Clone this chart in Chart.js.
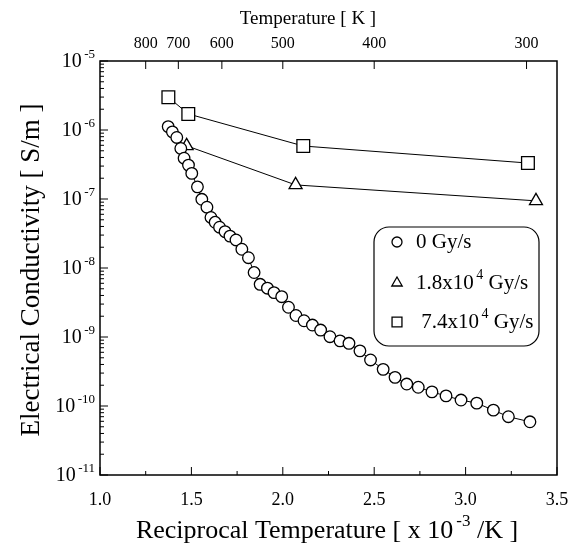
<!DOCTYPE html>
<html>
<head>
<meta charset="utf-8">
<script src="https://cdn.jsdelivr.net/npm/chart.js@4.4.1/dist/chart.umd.min.js"></script>
<style>
  html, body { margin: 0; padding: 0; background: #fff; }
  #wrap { width: 574px; height: 547px; }
</style>
</head>
<body>
<div id="wrap"><canvas id="condChart" width="574" height="547"></canvas></div>
<script>
// reciprocal temperature (x 10^-3 /K) and conductivity (S/m)
const recip0 = [1.373, 1.396, 1.420, 1.442, 1.460, 1.484, 1.502, 1.533, 1.557, 1.585,
  1.607, 1.630, 1.654, 1.684, 1.711, 1.744, 1.776, 1.812, 1.843, 1.876,
  1.916, 1.952, 1.994, 2.031, 2.072, 2.116, 2.162, 2.207, 2.258, 2.313,
  2.362, 2.422, 2.480, 2.549, 2.614, 2.678, 2.741, 2.816, 2.893, 2.975,
  3.061, 3.152, 3.234, 3.352]
const sigma0 = [1.12e-6, 9.4e-7, 7.8e-7, 5.4e-7, 3.9e-7, 3.1e-7, 2.35e-7, 1.5e-7, 9.9e-8, 7.6e-8,
  5.4e-8, 4.6e-8, 3.9e-8, 3.36e-8, 2.9e-8, 2.55e-8, 1.87e-8, 1.41e-8, 8.6e-9, 5.8e-9,
  5.1e-9, 4.4e-9, 3.84e-9, 2.7e-9, 2.05e-9, 1.72e-9, 1.49e-9, 1.26e-9, 1.01e-9, 8.8e-10,
  8.1e-10, 6.3e-10, 4.65e-10, 3.4e-10, 2.6e-10, 2.08e-10, 1.87e-10, 1.6e-10, 1.4e-10, 1.22e-10,
  1.1e-10, 8.7e-11, 7.0e-11, 5.9e-11]

const recip1 = [1.474, 2.070, 3.385]
const sigma1 = [5.9e-7, 1.6e-7, 9.4e-8]

const recip2 = [1.374, 1.483, 2.112, 3.341]
const sigma2 = [2.98e-6, 1.71e-6, 5.86e-7, 3.32e-7]

const tempTicks = [800, 700, 600, 500, 400, 300]
const yExponents = [-5, -6, -7, -8, -9, -10, -11]

const legendItems = [
  { style: 'circle', radius: 5, parts: ['0 Gy/s', '', ''] },
  { style: 'triangle', radius: 6, parts: ['1.8x10', '4', ' Gy/s'] },
  { style: 'rect', radius: 7, parts: [' 7.4x10', '4', ' Gy/s'] }
]

const serif = '"Liberation Serif", "Times New Roman", serif'

function toPoints(xs, ys) {
  return xs.map((x, i) => ({ x: x, y: ys[i] }))
}

// text with a raised exponent part
function drawSup(ctx, parts, x, y, size, align) {
  const supSize = Math.round(size * 0.65)
  ctx.font = size + 'px ' + serif
  const w0 = ctx.measureText(parts[0]).width
  const w2 = ctx.measureText(parts[2]).width
  ctx.font = supSize + 'px ' + serif
  const w1 = ctx.measureText(parts[1]).width
  const gap = parts[1] ? size * 0.12 : 0
  const total = w0 + gap + w1 + w2
  let left = x
  if (align === 'center') left = x - total / 2
  if (align === 'right') left = x - total
  ctx.textAlign = 'left'
  ctx.textBaseline = 'middle'
  ctx.font = size + 'px ' + serif
  ctx.fillText(parts[0], left, y)
  ctx.font = supSize + 'px ' + serif
  ctx.fillText(parts[1], left + w0 + gap, y - size * 0.38)
  ctx.font = size + 'px ' + serif
  ctx.fillText(parts[2], left + w0 + gap + w1, y)
}

const axesPlugin = {
  id: 'axesPlugin',
  afterDatasetsDraw(chart) {
    const ctx = chart.ctx
    const area = chart.chartArea
    const xs = chart.scales.x
    const xt = chart.scales.x2
    const ys = chart.scales.y
    ctx.save()
    ctx.strokeStyle = '#000'
    ctx.fillStyle = '#000'
    ctx.lineWidth = 1.5
    ctx.strokeRect(area.left, area.top, area.right - area.left, area.bottom - area.top)

    ctx.lineWidth = 1
    // bottom ticks, inside
    xs.ticks.forEach(t => {
      const px = xs.getPixelForValue(t.value)
      const major = Math.abs(t.value * 2 - Math.round(t.value * 2)) < 1e-6
      const len = major ? 8 : 4
      ctx.beginPath()
      ctx.moveTo(px, area.bottom)
      ctx.lineTo(px, area.bottom - len)
      ctx.stroke()
      if (major) {
        ctx.font = '18px ' + serif
        ctx.textAlign = 'center'
        ctx.textBaseline = 'middle'
        ctx.fillText(t.value.toFixed(1), px, area.bottom + 25)
      }
    })

    // top temperature ticks
    xt.ticks.forEach((t, i) => {
      const px = xt.getPixelForValue(t.value)
      ctx.beginPath()
      ctx.moveTo(px, area.top)
      ctx.lineTo(px, area.top + 8)
      ctx.stroke()
      ctx.font = '16px ' + serif
      ctx.textAlign = 'center'
      ctx.textBaseline = 'middle'
      ctx.fillText(String(tempTicks[i]), px, area.top - 17)
    })

    // left log ticks: decades long, 2..9 short
    yExponents.forEach(e => {
      for (let m = 1; m < 10; m++) {
        const v = m * Math.pow(10, e)
        if (v > 1.0001e-5) break
        const py = ys.getPixelForValue(v)
        ctx.beginPath()
        ctx.moveTo(area.left, py)
        ctx.lineTo(area.left + (m === 1 ? 8 : 4), py)
        ctx.stroke()
      }
    })
    yExponents.forEach(e => {
      const py = ys.getPixelForValue(Math.pow(10, e))
      drawSup(ctx, ['10', String(e), ''], area.left - 5, py + 1, 20, 'right')
    })

    // axis titles
    drawSup(ctx, ['Reciprocal Temperature [ x 10', '-3', ' /K ]'], 327, area.bottom + 56, 26, 'center')
    ctx.font = '19px ' + serif
    ctx.textAlign = 'center'
    ctx.textBaseline = 'middle'
    ctx.fillText('Temperature [ K ]', 308, 19)

    ctx.save()
    ctx.translate(32, 270)
    ctx.rotate(-Math.PI / 2)
    ctx.font = '27px ' + serif
    ctx.fillText('Electrical Conductivity [ S/m ]', 0, 0)
    ctx.restore()

    // legend box
    const bx = 374, by = 227, bw = 165, bh = 119, r = 15
    ctx.fillStyle = '#fff'
    ctx.lineWidth = 1.2
    ctx.beginPath()
    ctx.roundRect(bx, by, bw, bh, r)
    ctx.fill()
    ctx.stroke()
    const rowY = [242, 283, 322]
    legendItems.forEach((item, i) => {
      ctx.fillStyle = '#fff'
      ctx.strokeStyle = '#000'
      ctx.lineWidth = 1.3
      Chart.helpers.drawPoint(ctx, { pointStyle: item.style, radius: item.radius, borderWidth: 1.3, rotation: 0 }, 397, rowY[i])
      ctx.fillStyle = '#000'
      drawSup(ctx, item.parts, 416, rowY[i], 21, 'left')
    })
    ctx.restore()
  }
}

function createChart() {
  const ctx = document.getElementById('condChart')
  const common = {
    showLine: true,
    borderColor: '#000',
    borderWidth: 1,
    pointBackgroundColor: '#fff',
    pointBorderColor: '#000',
    pointBorderWidth: 1.3,
    fill: false,
    tension: 0
  }
  new Chart(ctx, {
    type: 'scatter',
    data: {
      datasets: [
        Object.assign({ label: '0 Gy/s', data: toPoints(recip0, sigma0), pointStyle: 'circle', pointRadius: 5.8 }, common),
        Object.assign({ label: '1.8x10^4 Gy/s', data: toPoints(recip1, sigma1), pointStyle: 'triangle', pointRadius: 7.5 }, common),
        Object.assign({ label: '7.4x10^4 Gy/s', data: toPoints(recip2, sigma2), pointStyle: 'rect', pointRadius: 9 }, common)
      ]
    },
    options: {
      responsive: false,
      animation: false,
      layout: { padding: { left: 100, right: 17, top: 61, bottom: 72 } },
      plugins: { legend: { display: false }, tooltip: { enabled: false } },
      scales: {
        x: { type: 'linear', min: 1, max: 3.5, display: false, ticks: { stepSize: 0.25 } },
        x2: {
          type: 'linear', position: 'top', min: 1, max: 3.5, display: false,
          afterBuildTicks: scale => { scale.ticks = tempTicks.map(t => ({ value: 1000 / t })) }
        },
        y: { type: 'logarithmic', min: 1e-11, max: 1e-5, display: false }
      }
    },
    plugins: [axesPlugin]
  })
}

document.addEventListener('DOMContentLoaded', () => createChart())
</script>
</body>
</html>
